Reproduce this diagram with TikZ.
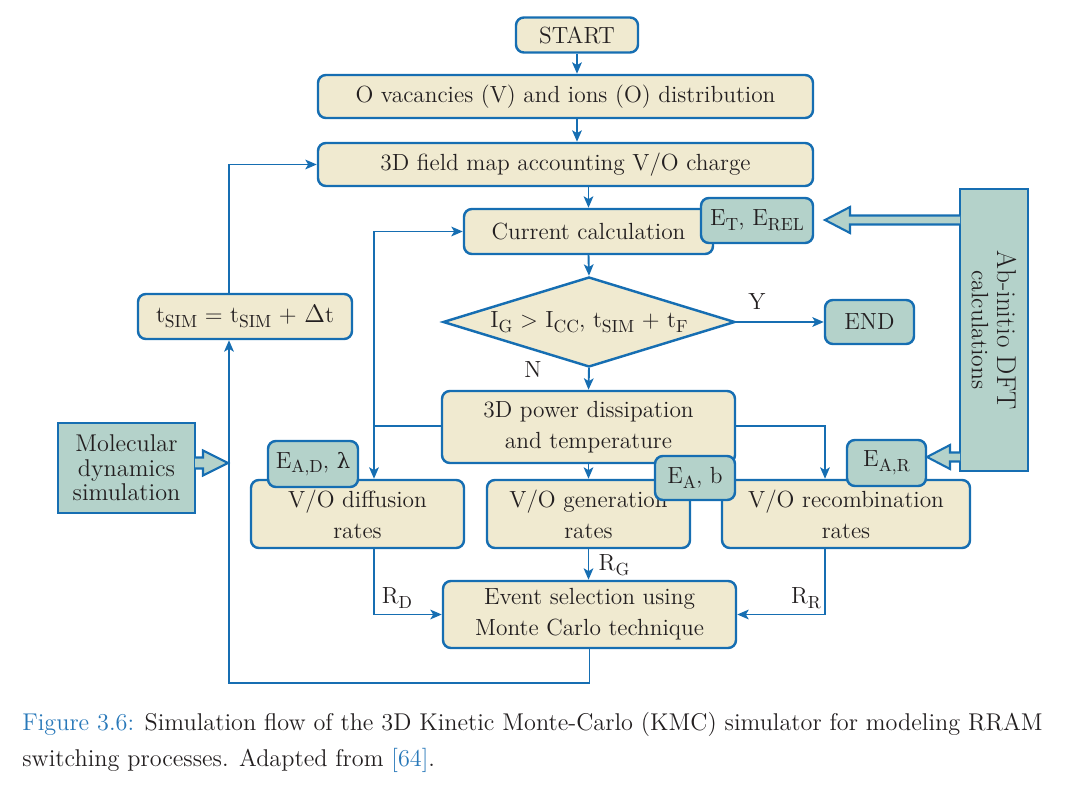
\documentclass[tikz,border=0pt]{standalone}
\usepackage{fontspec}
\usepackage{graphicx}
\usetikzlibrary{arrows.meta,shapes.geometric,calc}
\newfontfamily\grk{DejaVu Serif}
\definecolor{cream}{RGB}{240,234,208}
\definecolor{tealf}{RGB}{180,210,202}
\definecolor{bl}{RGB}{22,110,178}
\definecolor{ink}{RGB}{35,31,32}
\definecolor{capblue}{RGB}{40,120,185}
\newcommand\lo[1]{\raisebox{-0.45ex}{\fontsize{10}{11}\selectfont #1}}
\begin{document}
\begin{tikzpicture}[x=0.02cm,y=-0.02cm,
 sz/.style 2 args={minimum width=#1*0.02cm, minimum height=#2*0.02cm},
 base/.style={draw=bl, line width=1.4pt, text=ink, font=\fontsize{13.3}{17.5}\selectfont, inner sep=0pt, align=center},
 cbox/.style={base, fill=cream, rounded corners=4.5pt},
 tbox/.style={base, fill=tealf, rounded corners=4.5pt},
 sbox/.style={base, fill=tealf},
 conn/.style={draw=bl, line width=1.1pt},
 arr/.style={conn, -{Stealth[length=6.5pt,width=5.5pt,inset=1.6pt]}},
 hollow/.style={draw=bl, fill=tealf, line width=1.2pt, line join=miter},
 lbl/.style={text=ink, font=\fontsize{13.3}{15}\selectfont, inner sep=0pt}
]
\useasboundingbox (0,0) rectangle (1069,790);

% boxes
\node[cbox, sz={122}{35}] (start) at (577,35) {START};
\node[cbox, sz={495}{43}] (ovac) at (565.5,96.5) {O vacancies (V) and ions (O) distribution};
\node[cbox, sz={495}{43}] (field) at (565.5,164.5) {3D field map accounting V/O charge};
\node[cbox, sz={249}{45}] (curr) at (588.5,231.5) {Current calculation};
\node[tbox, sz={112}{45}] (et) at (757,220.5) {E\lo{T}, E\lo{REL}};
\node[diamond, base, fill=cream, sz={292}{90}, aspect=3.24] (dec) at (589,322) {I\lo{G} > I\lo{CC}, t\lo{SIM} + t\lo{F}};
\node[tbox, sz={89}{44}] (end) at (869.5,322) {END};
\node[sbox, sz={282}{68}, rotate=-90, font=\fontsize{15.5}{14.5}\selectfont] (dft) at (994,330) {Ab-initio DFT\\{\fontsize{13.5}{14.5}\selectfont calculations}};
\node[cbox, sz={214}{45}] (tsim) at (245,316.5) {t\lo{SIM} = t\lo{SIM} + $\Delta$t};
\node[sbox, sz={137}{90}, font=\fontsize{13.8}{14}\selectfont] (mol) at (126.5,468) {Molecular\\dynamics\\simulation};
\node[cbox, sz={293}{72}] (power) at (588.5,427) {3D power dissipation\\and temperature};
\node[cbox, sz={213}{68}] (diff) at (357.5,514) {V/O diffusion\\rates};
\node[tbox, sz={90}{46}] (ead) at (313,464) {E\lo{A,D}, {\grk\fontsize{12}{12}\selectfont λ}};
\node[cbox, sz={203}{68}] (gen) at (588.5,514) {V/O generation\\rates};
\node[cbox, sz={248}{68}] (rec) at (846,514) {V/O recombination\\rates};
\node[tbox, sz={80}{44}] (eab) at (695,478) {E\lo{A}, b};
\node[tbox, sz={79}{46}] (ear) at (886.5,463) {E\lo{A,R}};
\node[cbox, sz={293}{67}] (event) at (589.5,614.5) {Event selection using\\Monte Carlo technique};

% labels
\node[lbl] (ly) at (757,302) {Y};
\node[lbl] (ln) at (533,370) {N};
\node[lbl] (lrg) at (614,565) {R\lo{G}};
\node[lbl] (lrd) at (397,598) {R\lo{D}};
\node[lbl] (lrr) at (806,598) {R\lo{R}};

% connectors
\coordinate (jl) at (374,426);
\coordinate (jr) at (825,426);
\coordinate (lb) at (229,683);
\draw[arr] (start.south) -- (start.south |- ovac.north);
\draw[arr] (start.south |- ovac.south) -- (start.south |- field.north);
\draw[arr] (curr.north |- field.south) -- (curr.north);
\draw[arr] (curr.south) -- (dec.north);
\draw[arr] (dec.east) -- (end.west);
\draw[arr] (dec.south) -- (power.north);
\draw[conn] (power.west |- jl) -- (jl);
\draw[arr] (jl) |- (curr.west);
\draw[arr] (jl) -- (jl |- diff.north);
\draw[arr] (power.east |- jr) -| (jr |- rec.north);
\draw[arr] (power.south) -- (gen.north);
\draw[arr] (gen.south) -- (gen.south |- event.north);
\draw[arr] (jl |- diff.south) |- (event.west);
\draw[arr] (jr |- rec.south) |- (event.east);
\draw[arr] (event.south) |- (lb) -- (lb |- tsim.south);
\draw[arr] (lb |- tsim.north) |- (field.west);

% hollow block arrows
\draw[hollow] (960,215.5) -- (850,215.5) -- (850,207) -- (825,220) -- (850,233) -- (850,224.5) -- (960,224.5);
\draw[hollow] (960,452.5) -- (950,452.5) -- (950,445) -- (927,457) -- (950,469) -- (950,461.5) -- (960,461.5);
\draw[hollow] (195,457.5) -- (203,457.5) -- (203,450.5) -- (228,463) -- (203,475.5) -- (203,468.5) -- (195,468.5);

% caption
\node[anchor=west, align=left, inner sep=0pt, font=\fontsize{13.8}{20.5}\selectfont, text=ink] (cap) at (22,742) {\textcolor{capblue}{Figure 3.6:} Simulation flow of the 3D Kinetic Monte-Carlo (KMC) simulator for modeling RRAM\\switching processes. Adapted from \textcolor{capblue}{[64]}.};
\end{tikzpicture}
\end{document}
